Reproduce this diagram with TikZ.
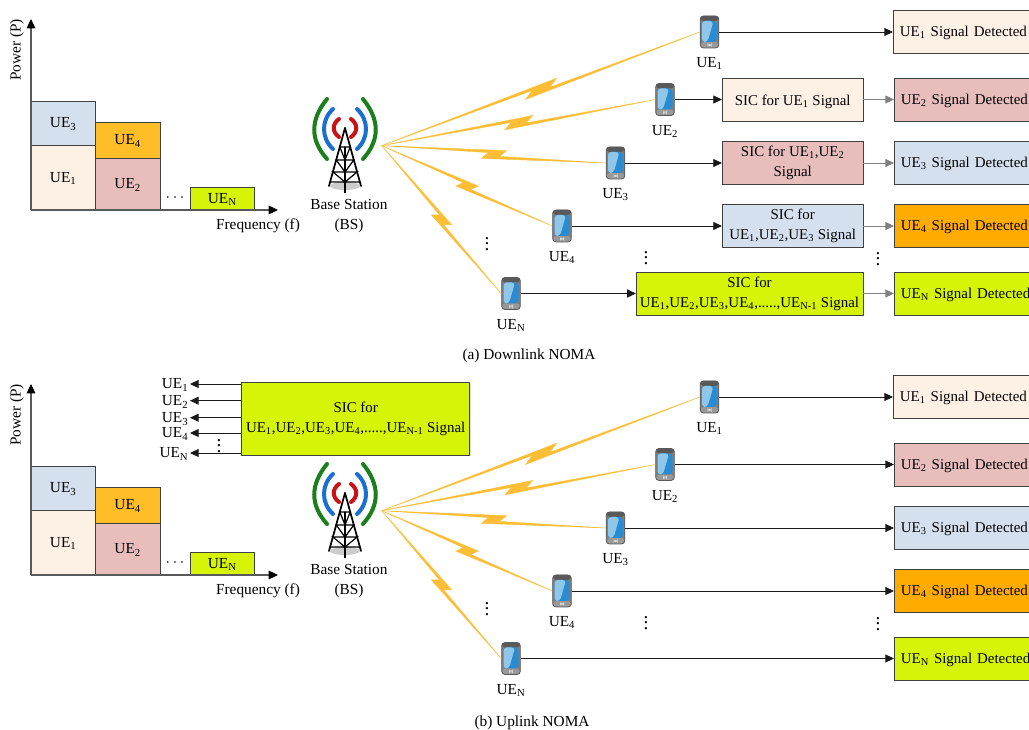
\documentclass[tikz,border=0pt]{standalone}
\usepackage{fontspec}
\usepackage{tikz}
\usepackage{xcolor}
\setmainfont{Liberation Serif}
\usetikzlibrary{positioning}
\usetikzlibrary{arrows.meta}
\usetikzlibrary{calc}
\usetikzlibrary{shadows}
\definecolor{uepeach}{HTML}{FDF1E6}
\definecolor{uepink}{HTML}{E8BEBD}
\definecolor{ueblue}{HTML}{D5E0EE}
\definecolor{ueorange}{HTML}{FFBE28}
\definecolor{uedetect}{HTML}{FFAB00}
\definecolor{uegreen}{HTML}{D5F408}
\definecolor{boltcol}{HTML}{FDBE36}
\definecolor{screenlight}{HTML}{8FC7EA}
\definecolor{screendark}{HTML}{2A8BD0}
\definecolor{towergreen}{HTML}{1B7F1B}
\definecolor{towerblue}{HTML}{1A6FD0}
\definecolor{towerred}{HTML}{C81414}

\begin{document}
\begin{tikzpicture}[x=0.75pt,
        y=-0.75pt,
        >={Triangle[length=6.5pt,width=6pt]},
        font=\fontsize{11.5}{15}\selectfont,
        chartbox/.style={
        draw=black!75,
        rectangle,
        minimum width=48.4pt,
        text height=7.4pt,
        text depth=0pt,
        inner sep=0pt,
        outer sep=0pt},
        sicbox/.style={
        draw=black!75,
        rectangle,
        minimum width=105.75pt,
        minimum height=32.25pt,
        inner sep=1pt,
        align=center,
        font=\fontsize{11.2}{15}\selectfont,
        execute at begin node={\rule{0pt}{11pt}},
        drop shadow={shadow xshift=.6pt,shadow yshift=-.6pt,opacity=.3}},
        sdbox/.style={
        draw=black!75,
        rectangle,
        anchor=west,
        minimum height=32.25pt,
        text width=112pt,
        text height=7pt,
        text depth=0pt,
        inner xsep=5pt,
        inner ysep=1pt,
        align=left,
        font=\fontsize{11.2}{15}\selectfont,
        drop shadow={shadow xshift=.6pt,shadow yshift=-.6pt,opacity=.3}},
        txt/.style={inner sep=1pt,align=center},
        uelab/.style={inner sep=1pt,text height=7.4pt,text depth=0pt},
        dotmark/.style={inner sep=1pt,font=\Large},
        axis/.style={draw=black!65,line width=.9pt,-{Triangle[length=7pt,width=6.5pt,black]}},
        link/.style={->,draw=black!90,line width=.7pt},
        linkgray/.style={draw=black!50,line width=.7pt,-{Triangle[length=6.5pt,width=6pt,black!50]}},
        ue/.style={
        draw=black!65,
        fill=black!50,
        rectangle,
        rounded corners=2.5pt,
        line width=.6pt,
        minimum width=14pt,
        minimum height=24pt,
        inner sep=0pt,
        path picture={
            \begin{scope}[shift={(path picture bounding box.center)}]
            \fill[black!65] (-9,-17) rectangle (9,-11);
            \fill[black!40] (-9,10) rectangle (9,17);
            \fill[black!15] (-2,12) rectangle (2,14);
            \fill[screendark] (-7.5,-11) rectangle (7.5,10);
            \fill[screenlight] (-7.5,-11) -- (4,-11) -- (-2,10) -- (-7.5,10) -- cycle;
            \end{scope}}},
        bolt/.style={
        draw=boltcol,
        fill=boltcol,
        line width=.3pt,
        to path={
        -- ($(\tikztostart)!.555!(\tikztotarget)!3.5pt!90:(\tikztotarget)$)
        -- ($(\tikztostart)!.527!(\tikztotarget)!-1.2pt!90:(\tikztotarget)$)
        -- (\tikztotarget)
        -- ($(\tikztostart)!.447!(\tikztotarget)!-3.7pt!90:(\tikztotarget)$)
        -- ($(\tikztostart)!.475!(\tikztotarget)!1pt!90:(\tikztotarget)$)
        -- cycle}},
        bstower/.pic={
            \fill[black!20] (0,58) ellipse (15 and 4);
            \foreach \s in {-1,1} {
                \begin{scope}[xscale=\s,line cap=round]
                \draw[towergreen,line width=3pt] (-18,-29) .. controls (-35,-8) and (-35,12) .. (-18,31);
                \draw[towerblue,line width=3pt] (-12,-19) .. controls (-24,-8) and (-24,10) .. (-12,21);
                \draw[towerred,line width=3pt] (-6,-9) .. controls (-13,-4) and (-13,4) .. (-6,9);
                \draw[black,line width=1.3pt] (0,0) -- (16,58);
                \draw[black,line width=.9pt] (0,19) -- (5.2,19) -- (0,32) -- (8.8,32) -- (0,44) -- (12.1,44) -- (0,54) -- (14.9,54);
                \end{scope}}
            \draw[black,line width=1.6pt] (0,19) -- (0,65);
        }]

        \useasboundingbox (0,0) rectangle (1029,730);

        % (a) downlink
        \coordinate (oa) at (31,210);
        \coordinate (xa) at (278,210);
        \coordinate (ya) at (31,19);
        \node[chartbox, fill=uepeach, minimum height=48.75pt] (ca1) at (63.2,177.5) {UE\textsubscript{1}};
        \node[chartbox, fill=ueblue, minimum height=33pt, above=0pt of ca1] (ca3) {UE\textsubscript{3}};
        \node[chartbox, fill=uepink, minimum height=39pt, anchor=south west] (ca2) at (ca1.south east) {UE\textsubscript{2}};
        \node[chartbox, fill=ueorange, minimum height=27pt, above=0pt of ca2] (ca4) {UE\textsubscript{4}};
        \node[chartbox, fill=uegreen, minimum height=17pt, anchor=south west] (can) at (190,210) {UE\textsubscript{N}};
        \draw[axis] (oa) -- (xa);
        \draw[axis] (oa) -- (ya);
        \node[dotmark, font=\large] (dotsa) at (175,198) {$\cdots$};
        \node[txt, rotate=90] (powa) at (17,50) {Power (P)};
        \node[txt] (freqa) at (258,225.5) {Frequency (f)};
        \pic (twa) at (345,128) {bstower};
        \node[txt] (bsla) at (349,216) {Base Station\\(BS)};
        \coordinate (bsa) at (381.7,145.7);

        \node[ue] (pa1) at (709.5,32) {};
        \node[ue] (pa2) at (665,99.5) {};
        \node[ue] (pa3) at (615.5,163) {};
        \node[ue] (pa4) at (562,226) {};
        \node[ue] (pan) at (511,293.5) {};
        \node[uelab] (la1) [below=5.8pt of pa1] {UE\textsubscript{1}};
        \node[uelab] (la2) [below=5.8pt of pa2] {UE\textsubscript{2}};
        \node[uelab] (la3) [below=5.8pt of pa3] {UE\textsubscript{3}};
        \node[uelab] (la4) [below=5.8pt of pa4] {UE\textsubscript{4}};
        \node[uelab] (lan) [below=5.8pt of pan] {UE\textsubscript{N}};
        \node[dotmark] (da1) at (487,240) {$\vdots$};
        \node[dotmark] (da2) at (646,254) {$\vdots$};
        \node[dotmark] (da3) at (878,255) {$\vdots$};

        \node[sicbox, fill=uepeach] (sa2) at (792.7,99.5) {SIC for UE\textsubscript{1} Signal};
        \node[sicbox, fill=uepink] (sa3) at (792.7,163) {SIC for UE\textsubscript{1},UE\textsubscript{2}\\Signal};
        \node[sicbox, fill=ueblue] (sa4) at (792.7,226) {SIC for\\UE\textsubscript{1},UE\textsubscript{2},UE\textsubscript{3} Signal};
        \node[sicbox, fill=uegreen, minimum width=170pt] (san) at (749.5,293.5) {SIC for\\UE\textsubscript{1},UE\textsubscript{2},UE\textsubscript{3},UE\textsubscript{4},.....,UE\textsubscript{N-1} Signal};

        \node[sdbox, fill=uepeach] (da1b) at (893,32) {UE\textsubscript{1} Signal Detected};
        \node[sdbox, fill=uepink] (da2b) at (894,99.5) {UE\textsubscript{2} Signal Detected};
        \node[sdbox, fill=ueblue] (da3b) at (894,163) {UE\textsubscript{3} Signal Detected};
        \node[sdbox, fill=uedetect] (da4b) at (894,226) {UE\textsubscript{4} Signal Detected};
        \node[sdbox, fill=uegreen] (danb) at (894,293.5) {UE\textsubscript{N} Signal Detected};

        \path (bsa) edge [bolt] (pa1.west);
        \path (bsa) edge [bolt] (pa2.west);
        \path (bsa) edge [bolt] (pa3.west);
        \path (bsa) edge [bolt] (pa4.west);
        \path (bsa) edge [bolt] (pan.west);
        \path (pa1) edge [link] (da1b);
        \path (pa2) edge [link] (sa2);
        \path (pa3) edge [link] (sa3);
        \path (pa4) edge [link] (sa4);
        \path (pan) edge [link] (san);
        \path (sa2) edge [linkgray] (da2b);
        \path (sa3) edge [linkgray] (da3b);
        \path (sa4) edge [linkgray] (da4b);
        \path (san) edge [linkgray] (danb);
        \node[txt] (capa) at (529,356) {(a) Downlink NOMA};

        % (b) uplink
        \coordinate (ob) at (31,575);
        \coordinate (xb) at (278,575);
        \coordinate (yb) at (31,384);
        \node[chartbox, fill=uepeach, minimum height=48.75pt] (cb1) at (63.2,542.5) {UE\textsubscript{1}};
        \node[chartbox, fill=ueblue, minimum height=33pt, above=0pt of cb1] (cb3) {UE\textsubscript{3}};
        \node[chartbox, fill=uepink, minimum height=39pt, anchor=south west] (cb2) at (cb1.south east) {UE\textsubscript{2}};
        \node[chartbox, fill=ueorange, minimum height=27pt, above=0pt of cb2] (cb4) {UE\textsubscript{4}};
        \node[chartbox, fill=uegreen, minimum height=17pt, anchor=south west] (cbn) at (190,575) {UE\textsubscript{N}};
        \draw[axis] (ob) -- (xb);
        \draw[axis] (ob) -- (yb);
        \node[dotmark, font=\large] (dotsb) at (175,563) {$\cdots$};
        \node[txt, rotate=90] (powb) at (17,415) {Power (P)};
        \node[txt] (freqb) at (258,590.5) {Frequency (f)};
        \pic (twb) at (345,493) {bstower};
        \node[txt] (bslb) at (349,581) {Base Station\\(BS)};
        \coordinate (bsb) at (381.7,510.7);

        \node[sicbox, fill=uegreen, minimum width=171pt, minimum height=55pt] (sb) at (355.7,419) {SIC for\\UE\textsubscript{1},UE\textsubscript{2},UE\textsubscript{3},UE\textsubscript{4},.....,UE\textsubscript{N-1} Signal};
        \node[uelab, anchor=east] (ub1) at (190,384) {UE\textsubscript{1}};
        \node[uelab, anchor=east] (ub2) at (190,400.7) {UE\textsubscript{2}};
        \node[uelab, anchor=east] (ub3) at (190,417.7) {UE\textsubscript{3}};
        \node[uelab, anchor=east] (ub4) at (190,433) {UE\textsubscript{4}};
        \node[uelab, anchor=east] (ubn) at (190,453) {UE\textsubscript{N}};
        \path (sb.west |- ub1.east) edge [link] (ub1.east);
        \path (sb.west |- ub2.east) edge [link] (ub2.east);
        \path (sb.west |- ub3.east) edge [link] (ub3.east);
        \path (sb.west |- ub4.east) edge [link] (ub4.east);
        \path (sb.west |- ubn.east) edge [link] (ubn.east);
        \node[dotmark] (dub) at (219,442) {$\vdots$};

        \node[ue] (pb1) at (709.5,397) {};
        \node[ue] (pb2) at (665,464.5) {};
        \node[ue] (pb3) at (615.5,528) {};
        \node[ue] (pb4) at (562,591) {};
        \node[ue] (pbn) at (511,658.5) {};
        \node[uelab] (lb1) [below=5.8pt of pb1] {UE\textsubscript{1}};
        \node[uelab] (lb2) [below=5.8pt of pb2] {UE\textsubscript{2}};
        \node[uelab] (lb3) [below=5.8pt of pb3] {UE\textsubscript{3}};
        \node[uelab] (lb4) [below=5.8pt of pb4] {UE\textsubscript{4}};
        \node[uelab] (lbn) [below=5.8pt of pbn] {UE\textsubscript{N}};
        \node[dotmark] (db1) at (487,605) {$\vdots$};
        \node[dotmark] (db2) at (646,619) {$\vdots$};
        \node[dotmark] (db3) at (878,620) {$\vdots$};

        \node[sdbox, fill=uepeach] (db1b) at (893,397) {UE\textsubscript{1} Signal Detected};
        \node[sdbox, fill=uepink] (db2b) at (894,464.5) {UE\textsubscript{2} Signal Detected};
        \node[sdbox, fill=ueblue] (db3b) at (894,528) {UE\textsubscript{3} Signal Detected};
        \node[sdbox, fill=uedetect] (db4b) at (894,591) {UE\textsubscript{4} Signal Detected};
        \node[sdbox, fill=uegreen] (dbnb) at (894,658.5) {UE\textsubscript{N} Signal Detected};

        \path (bsb) edge [bolt] (pb1.west);
        \path (bsb) edge [bolt] (pb2.west);
        \path (bsb) edge [bolt] (pb3.west);
        \path (bsb) edge [bolt] (pb4.west);
        \path (bsb) edge [bolt] (pbn.west);
        \path (pb1) edge [link] (db1b);
        \path (pb2) edge [link] (db2b);
        \path (pb3) edge [link] (db3b);
        \path (pb4) edge [link] (db4b);
        \path (pbn) edge [link] (dbnb);
        \node[txt] (capb) at (532,723) {(b) Uplink NOMA};
\end{tikzpicture}
\end{document}
